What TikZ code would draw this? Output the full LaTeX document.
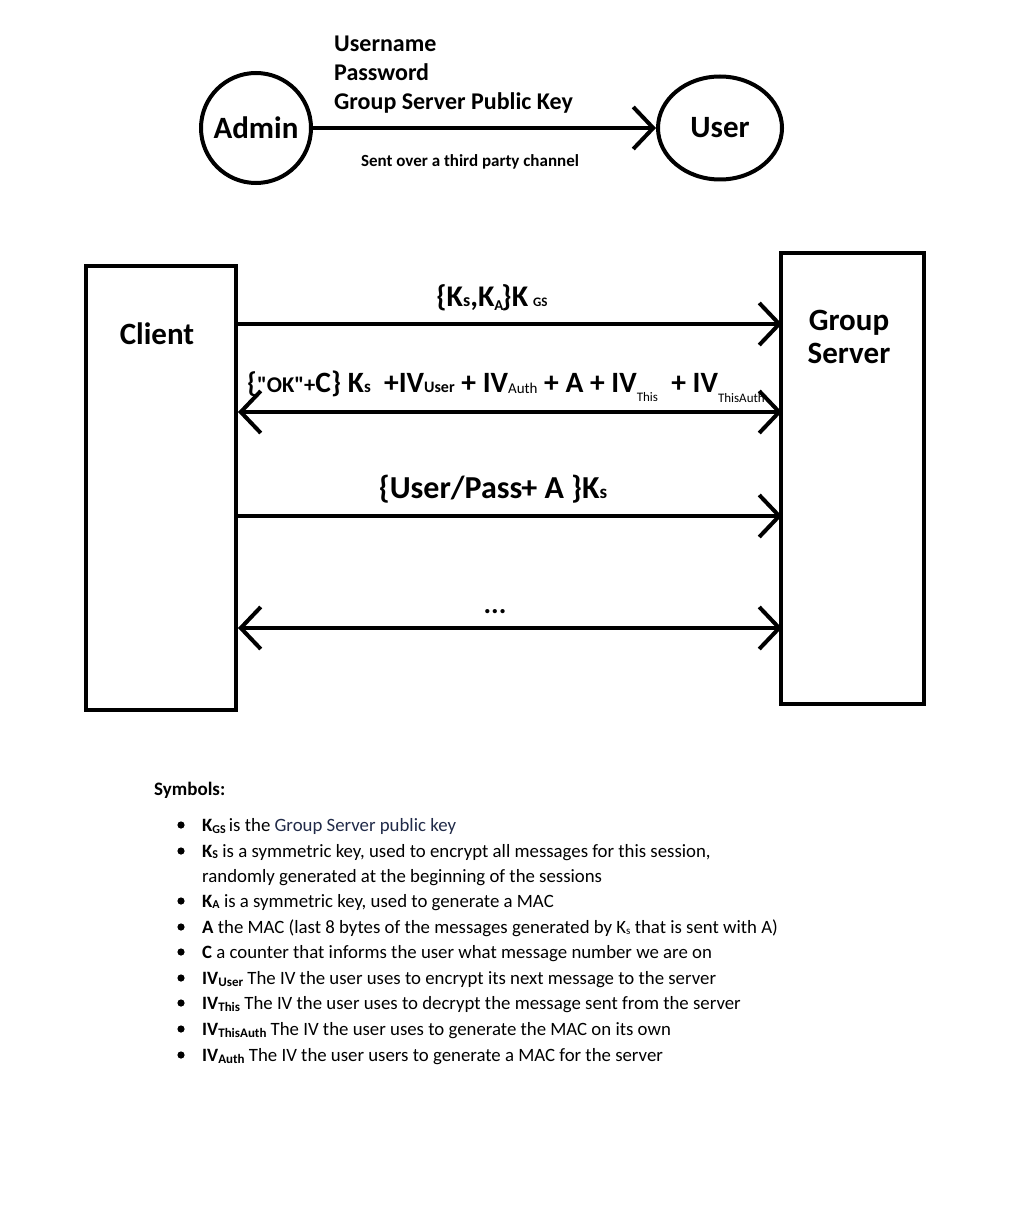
\documentclass[tikz,border=0pt]{standalone}
\usepackage{fontspec}
\setmainfont{Carlito}
\usetikzlibrary{arrows.meta,shapes.geometric}

\definecolor{keyblue}{RGB}{32,42,72}

% small text pushed down by a given amount
\newcommand{\lowtext}[3]{\raisebox{-#2pt}{\fontsize{#1}{#1}\selectfont #3}}
\newcommand{\fsz}[1]{\fontsize{#1}{#1}\selectfont}

\tikzset{
    party/.style={draw, line width=4pt, minimum width=110pt, minimum height=110pt,
        inner sep=0pt, font=\bfseries\fsz{31}},
    box/.style={draw, line width=4pt, inner sep=0pt},
    boxtext/.style={font=\bfseries\fsz{31}, align=center, inner sep=0pt},
    msg/.style={line width=4pt, -{Straight Barb[length=20pt,width=42pt]}},
    twoway/.style={line width=4pt, {Straight Barb[length=20pt,width=42pt]}-{Straight Barb[length=20pt,width=42pt]}},
    msgtext/.style={font=\bfseries\fsz{28.5}, anchor=base, inner sep=0pt},
    credtext/.style={font=\bfseries\fsz{24}, anchor=base west, inner sep=0pt},
    symtext/.style={font=\fsz{18.8}, anchor=base west, inner sep=0pt}
}

\begin{document}
\begin{tikzpicture}[x=1pt, y=-1pt]
    \useasboundingbox (0, 0) rectangle (1010, 1214);

    % admin hands the user its credentials
    \node[party, circle] (admin) at (256, 128) {Admin};
    \node[party, ellipse, minimum width=124pt, minimum height=103pt] (user) at (720, 128) {User};
    \draw[msg] (admin.east) -- (user.west);
    \node[credtext] (uname) at (334, 52) {Username};
    \node[credtext] (pword) at (334, 81) {Password};
    \node[credtext] (gskey) at (334, 110) {Group Server Public Key};
    \node[font=\bfseries\fsz{17}, inner sep=0pt] (channel) at (470, 162) {Sent over a third party channel};

    % client and group server
    \node[box, minimum width=150pt, minimum height=444pt] (client) at (161, 488) {};
    \node[box, minimum width=143pt, minimum height=451pt] (server) at (852.5, 478.5) {};
    \node[boxtext] (clientname) at (157, 334) {Client};
    \node[boxtext] (servername) at (849, 337) {Group\\[2pt]Server};

    \coordinate (y1) at (0, 324);
    \coordinate (y2) at (0, 412);
    \coordinate (y3) at (0, 516);
    \coordinate (y4) at (0, 628);

    \draw[msg] (client.east |- y1) -- ([xshift=3pt]server.west |- y1);
    \draw[twoway] (client.east |- y2) -- ([xshift=3pt]server.west |- y2);
    \draw[msg] (client.east |- y3) -- ([xshift=3pt]server.west |- y3);
    \draw[twoway] (client.east |- y4) -- ([xshift=3pt]server.west |- y4);

    \node[msgtext, font=\bfseries\fsz{30}] (m1) at (492, 306)
        {\{K\lowtext{18}{0}{s},K\lowtext{15}{4}{A}\kern-2pt\}K\,\lowtext{13}{0}{GS}};
    \node[msgtext] (m2) at (506, 392)
        {\{\fsz{22.5}\textquotedbl OK\textquotedbl+\fsz{29.5}C\} K\lowtext{17}{0}{s}\ \ +IV\lowtext{16}{0}{User} + IV\lowtext{15}{1}{\mdseries Auth} + A + IV\lowtext{13}{9}{\mdseries This}\ \ + IV\lowtext{13}{10}{\mdseries ThisAuth}};
    \node[msgtext, font=\bfseries\fsz{32}] (m3) at (493, 498)
        {\{User/Pass\kern-1pt+ A \}K\lowtext{19}{0}{s}};
    \node[msgtext] (m4) at (495, 613) {...};

    % legend
    \node[font=\bfseries\fsz{19}, anchor=base west, inner sep=0pt] (symbols) at (154, 795) {Symbols:};
    \foreach \y in {825, 851, 901, 927, 952, 978, 1003, 1029, 1055}
        \fill (181, \y) circle (3.6pt);

    \node[symtext] (kgs) at (202, 831)
        {\textbf{K\lowtext{12}{2}{GS}}\,is the \textcolor{keyblue}{Group Server public key}};
    \node[symtext] (ks) at (202, 857)
        {\textbf{K\lowtext{12}{1}{S}} is a symmetric key, used to encrypt all messages for this session,};
    \node[symtext] (ksmore) at (202, 882) {randomly generated at the beginning of the sessions};
    \node[symtext] (ka) at (202, 907)
        {\textbf{K\lowtext{12}{1}{A}} is a symmetric key, used to generate a MAC};
    \node[symtext] (mac) at (202, 933)
        {\textbf{A} the MAC (last 8 bytes of the messages generated by K\lowtext{11}{1}{s} that is sent with A)};
    \node[symtext] (ctr) at (202, 958)
        {\textbf{C} a counter that informs the user what message number we are on};
    \node[symtext] (ivuser) at (202, 984)
        {\textbf{IV\lowtext{13}{2}{User}} The IV the user uses to encrypt its next message to the server};
    \node[symtext] (ivthis) at (202, 1009)
        {\textbf{IV\lowtext{13}{2}{This}} The IV the user uses to decrypt the message sent from the server};
    \node[symtext] (ivthisauth) at (202, 1035)
        {\textbf{IV\lowtext{13}{2}{ThisAuth}} The IV the user uses to generate the MAC on its own};
    \node[symtext] (ivauth) at (202, 1061)
        {\textbf{IV\lowtext{13}{2}{Auth}} The IV the user users to generate a MAC for the server};
\end{tikzpicture}
\end{document}
